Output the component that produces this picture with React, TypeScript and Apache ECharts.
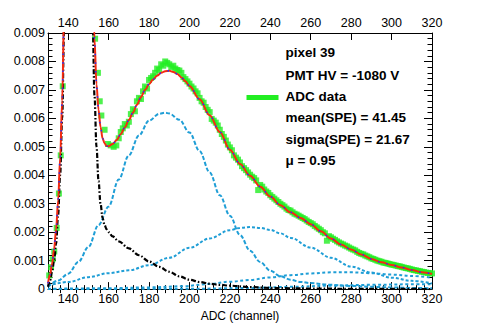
import React, { useEffect, useRef } from "react";
import * as echarts from "echarts";

// ---- ADC data (green squares) ----
// steep edges around the pedestal, read point by point
const edgeX = [130.6, 131.5, 132.3, 133.1, 134.3, 135.4, 136.3, 137.3, 153.3, 154.7, 155.6, 156.4, 158, 159.7, 161, 162.5, 163.8, 165];
const edgeY = [0.00048, 0.00077, 0.00105, 0.00132, 0.00215, 0.00336, 0.0047, 0.00713, 0.0088, 0.0076, 0.0066, 0.0061, 0.0056, 0.0051, 0.00505, 0.005, 0.00505, 0.0053];
// one value per ADC channel from channel 166 to 320
const binStart = 166;
const binY = [
  0.00552, 0.00565, 0.0058, 0.00575, 0.00588, 0.00615, 0.00632, 0.00625, 0.0066, 0.00672, 0.00668, 0.00695, 0.00712, 0.00705, 0.00735,
  0.00742, 0.00748, 0.0076, 0.00775, 0.0077, 0.0079, 0.00785, 0.008, 0.00795, 0.0079, 0.0078, 0.00785, 0.00775, 0.0077, 0.00768,
  0.0076, 0.00745, 0.00738, 0.0073, 0.00722, 0.00712, 0.00705, 0.00695, 0.00688, 0.00672, 0.0066, 0.00655, 0.0064, 0.0063, 0.00622,
  0.00598, 0.00592, 0.00585, 0.00575, 0.0056, 0.00545, 0.00535, 0.00522, 0.00508, 0.00498, 0.00488, 0.0047, 0.00462, 0.00455, 0.00445,
  0.00432, 0.00425, 0.00418, 0.0041, 0.00402, 0.00395, 0.0039, 0.00382, 0.00348, 0.00366, 0.0036, 0.0035, 0.00343, 0.00338, 0.0033,
  0.00324, 0.00318, 0.00312, 0.00306, 0.003, 0.00295, 0.0029, 0.00283, 0.00278, 0.00276, 0.0027, 0.00265, 0.00262, 0.00258, 0.00254,
  0.0025, 0.00246, 0.00241, 0.00236, 0.00232, 0.00228, 0.00222, 0.00217, 0.00212, 0.00207, 0.002, 0.00196, 0.0017, 0.00186, 0.00182,
  0.00177, 0.00173, 0.00168, 0.00164, 0.0016, 0.00157, 0.00153, 0.0015, 0.00146, 0.00142, 0.00139, 0.00136, 0.00131, 0.00127, 0.00124,
  0.00122, 0.00118, 0.00115, 0.00112, 0.00108, 0.00106, 0.00103, 0.001, 0.00098, 0.00096, 0.00093, 0.00092, 0.0009, 0.00088, 0.00086,
  0.00085, 0.00083, 0.00081, 0.0008, 0.00078, 0.00076, 0.00074, 0.00073, 0.00071, 0.00069, 0.00067, 0.00066, 0.00064, 0.00063, 0.00061,
  0.0006, 0.00058, 0.00057, 0.00056, 0.00055,
];

// ---- total fit (red) ----
const fitX = [
  130, 131, 132, 133, 134, 135, 136, 137, 138, 139, 141, 145, 149, 151, 152, 153, 154, 155, 156, 157, 158, 159, 160,
  162, 164, 166, 168, 170, 172, 174, 176, 178, 180, 182, 184, 186, 188, 190, 192, 194, 196, 198, 200,
  205, 210, 215, 220, 225, 230, 235, 240, 245, 250, 255, 260, 265, 270, 275, 280, 285, 290, 295, 300, 305, 310, 315, 320,
];
const fitY = [
  0.0002, 0.0005, 0.0009, 0.0014, 0.0021, 0.0031, 0.0046, 0.0066, 0.0098, 0.0145, 0.031, 0.052, 0.031, 0.0165, 0.0115, 0.0088, 0.0072, 0.0063, 0.0057, 0.0053, 0.00512, 0.00503, 0.00502,
  0.0051, 0.00524, 0.00545, 0.00568, 0.00594, 0.0062, 0.00648, 0.00675, 0.007, 0.0072, 0.00737, 0.0075, 0.0076, 0.00766, 0.00767, 0.00763, 0.00756, 0.00744, 0.0073, 0.00714,
  0.00667, 0.00611, 0.00552, 0.0049, 0.0044, 0.00398, 0.0036, 0.00325, 0.00295, 0.0027, 0.0025, 0.00228, 0.00203, 0.00178, 0.00157, 0.00139, 0.00122, 0.00106, 0.00094, 0.00085, 0.00076, 0.00067, 0.00059, 0.00053,
];

// ---- pedestal (black dash-dot) ----
const pedX = [
  130, 131, 132, 133, 134, 135, 136, 137, 138, 139, 141, 145, 149, 151, 152, 153, 154, 155, 156, 157, 158, 159, 160,
  162, 165, 170, 175, 180, 185, 190, 195, 200, 205, 210, 215, 220, 230, 240, 250, 260, 280, 300, 320,
];
const pedY = [
  0.00008, 0.0003, 0.0006, 0.001, 0.0016, 0.0026, 0.004, 0.006, 0.0092, 0.014, 0.03, 0.05, 0.03, 0.014, 0.0098, 0.0068, 0.005, 0.0038, 0.003, 0.0025, 0.00225, 0.0021, 0.002,
  0.00185, 0.00168, 0.00143, 0.00119, 0.00097, 0.00078, 0.00061, 0.00045, 0.00033, 0.00025, 0.00019, 0.00015, 0.00012, 0.00007, 0.00004, 0.00003, 0.00002, 0.00001, 0.00001, 0,
];

// ---- photo-electron components (blue dashed) ----
const pe1X = [130, 135, 140, 145, 150, 155, 160, 165, 170, 175, 180, 185, 188, 190, 195, 200, 205, 210, 215, 220, 225, 230, 235, 240, 245, 250, 255, 260, 270, 280, 290, 300, 310, 320];
const pe1Y = [0.00008, 0.0003, 0.00054, 0.00095, 0.00148, 0.00225, 0.0029, 0.00385, 0.0047, 0.0054, 0.00592, 0.00616, 0.0062, 0.00617, 0.00595, 0.0055, 0.00485, 0.0041, 0.0033, 0.00258, 0.0019, 0.00135, 0.00095, 0.00065, 0.00045, 0.00033, 0.00025, 0.00021, 0.00015, 0.00011, 0.00008, 0.00006, 0.00004, 0.00003];
const pe2X = [130, 140, 150, 160, 170, 180, 190, 200, 210, 220, 225, 230, 235, 240, 245, 250, 260, 270, 280, 290, 300, 310, 320];
const pe2Y = [0.00012, 0.00025, 0.00042, 0.00056, 0.00066, 0.00084, 0.0011, 0.00145, 0.00178, 0.00207, 0.00215, 0.00218, 0.00215, 0.00208, 0.00196, 0.0018, 0.00146, 0.0011, 0.00079, 0.00058, 0.0004, 0.00029, 0.0002];
const pe3X = [130, 160, 180, 196, 210, 220, 230, 240, 250, 260, 270, 280, 290, 300, 310, 320];
const pe3Y = [0.00001, 0.00003, 0.00006, 0.0001, 0.00018, 0.00026, 0.00032, 0.00041, 0.00049, 0.00055, 0.00059, 0.00059, 0.00056, 0.00051, 0.00046, 0.0004];
const pe4X = [130, 200, 230, 250, 270, 290, 310, 320];
const pe4Y = [0, 0.00001, 0.00004, 0.00008, 0.00012, 0.00015, 0.00017, 0.00017];

// ---- ticks and texts ----
const xMajorTicks = [140, 160, 180, 200, 220, 240, 260, 280, 300, 320];
const xMinorTicks = [132, 136, 144, 148, 152, 156, 164, 168, 172, 176, 184, 188, 192, 196, 204, 208, 212, 216, 224, 228, 232, 236, 244, 248, 252, 256, 264, 268, 272, 276, 284, 288, 292, 296, 304, 308, 312, 316];
const infoLines = ["pixel 39", "PMT HV = -1080 V", "ADC data", "mean(SPE) = 41.45", "sigma(SPE) = 21.67", "\u03bc = 0.95"];

const zip = (xs: number[], ys: number[]) => xs.map((x, i) => [x, ys[i]]);

const FONT = "Liberation Sans, Arial, Helvetica, sans-serif";
const GREEN = "#22ee22";
const BLUE = "#1f9ed6";

export default function App() {
  const ref = useRef<HTMLDivElement>(null);
  useEffect(() => {
    if (!ref.current) return;
    const chart = echarts.init(ref.current, undefined, { renderer: "svg" });
    const adcData = [...zip(edgeX, edgeY), ...binY.map((v, i) => [binStart + i, v])];
    const axisBase = {
      type: "value" as const,
      min: 130,
      max: 320,
      splitLine: { show: false },
    };
    const yBase = {
      type: "value" as const,
      min: 0,
      max: 0.009,
      interval: 0.001,
      splitLine: { show: false },
      axisLine: { show: true, lineStyle: { color: "#000", width: 1 } },
      axisTick: { show: true, inside: true, length: 8, lineStyle: { color: "#000" } },
      minorTick: { show: true, splitNumber: 5, length: 4.5, lineStyle: { color: "#000" } },
    };
    const lineSeries = (name: string, xs: number[], ys: number[], color: string, width: number, type: any, z = 3) => ({
      name,
      type: "line",
      data: zip(xs, ys),
      showSymbol: false,
      symbol: "none",
      smooth: 0.35,
      smoothMonotone: "x",
      clip: true,
      silent: true,
      z,
      lineStyle: { color, width, type },
    });
    const textY = [53.5, 76.5, 97.5, 118.5, 140, 161.5];
    chart.setOption({
      animation: false,
      backgroundColor: "#fff",
      grid: { left: 48, right: 48, top: 33, bottom: 33, containLabel: false },
      xAxis: [
        {
          ...axisBase,
          position: "bottom",
          axisLine: { show: true, onZero: false, lineStyle: { color: "#000", width: 1 } },
          axisTick: { show: true, inside: true, length: 7, customValues: xMajorTicks, lineStyle: { color: "#000" } },
          axisLabel: { customValues: xMajorTicks, showMaxLabel: true, fontSize: 12.5, color: "#000", margin: 3, fontFamily: FONT },
          name: "ADC (channel)",
          nameLocation: "middle",
          nameGap: 14,
          nameTextStyle: { fontSize: 12, color: "#000", fontFamily: FONT, verticalAlign: "top" },
        },
        {
          ...axisBase,
          position: "bottom",
          axisLine: { show: false },
          axisTick: { show: true, inside: true, length: 4, customValues: xMinorTicks, lineStyle: { color: "#000" } },
          axisLabel: { show: false },
        },
        {
          ...axisBase,
          position: "top",
          axisLine: { show: true, onZero: false, lineStyle: { color: "#000", width: 1 } },
          axisTick: { show: true, inside: true, length: 7, customValues: xMajorTicks, lineStyle: { color: "#000" } },
          axisLabel: { customValues: xMajorTicks, showMaxLabel: true, fontSize: 12.5, color: "#000", margin: 4, fontFamily: FONT },
        },
        {
          ...axisBase,
          position: "top",
          axisLine: { show: false },
          axisTick: { show: true, inside: true, length: 4, customValues: xMinorTicks, lineStyle: { color: "#000" } },
          axisLabel: { show: false },
        },
      ],
      yAxis: [
        {
          ...yBase,
          position: "left",
          axisLabel: {
            fontSize: 12.5,
            color: "#000",
            margin: 3,
            fontFamily: FONT,
            showMaxLabel: true,
            formatter: (v: number) => (v === 0 ? "0" : v.toFixed(3)),
          },
        },
        {
          ...yBase,
          position: "right",
          axisLabel: { show: false },
        },
      ],
      series: [
        {
          name: "ADC data",
          type: "scatter",
          data: adcData,
          symbol: "rect",
          symbolSize: 6,
          itemStyle: { color: GREEN },
          clip: true,
          silent: true,
          z: 2,
        },
        lineSeries("1 p.e.", pe1X, pe1Y, BLUE, 2, [4, 2]),
        lineSeries("2 p.e.", pe2X, pe2Y, BLUE, 2, [3, 2]),
        lineSeries("3 p.e.", pe3X, pe3Y, BLUE, 2, [3, 2.5]),
        lineSeries("4 p.e.", pe4X, pe4Y, BLUE, 2, [3, 2.5]),
        lineSeries("pedestal", pedX, pedY, "#000", 2.2, [5, 2, 1.5, 2]),
        lineSeries("fit", fitX, fitY, "#f52a10", 2, "solid", 4),
        lineSeries("fit overlay", fitX, fitY, "#2233ff", 1.5, [1.5, 7], 5),
      ],
      graphic: [
        ...infoLines.map((t, i) => ({
          type: "text",
          left: 285.5,
          top: textY[i] - 8,
          silent: true,
          style: {
            text: t,
            fill: "#000",
            font: "bold 13.5px " + FONT,
          },
        })),
        {
          type: "line",
          silent: true,
          shape: { x1: 246.5, y1: 97.5, x2: 278.5, y2: 97.5 },
          style: { stroke: GREEN, lineWidth: 5 },
        },
      ],
    });
    return () => chart.dispose();
  }, []);
  return (
    <div
      ref={ref}
      style={{ position: "fixed", left: 0, top: 0, width: 480, height: 327, background: "#fff" }}
    />
  );
}
